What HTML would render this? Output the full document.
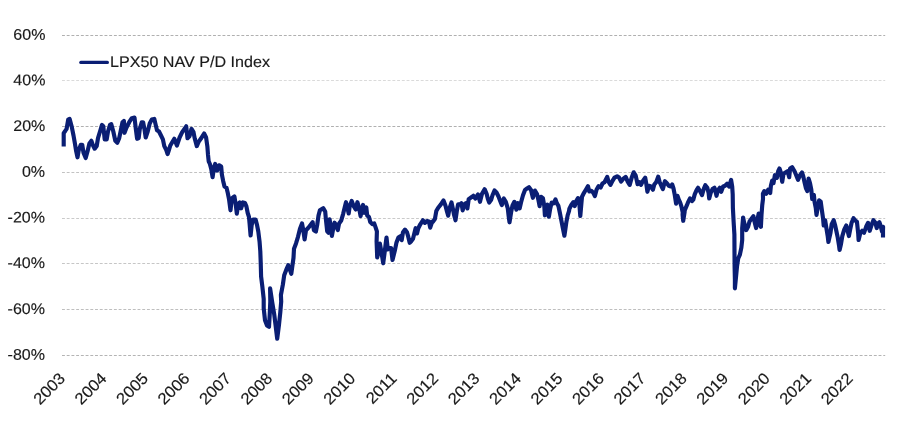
<!DOCTYPE html>
<html><head><meta charset="utf-8"><title>LPX50 NAV P/D Index</title>
<style>
html,body{margin:0;padding:0;background:#fff;}
body{width:906px;height:430px;overflow:hidden;}
svg{display:block;}
text{font-family:"Liberation Sans",sans-serif;font-size:15.4px;fill:#1a1a1a;stroke:#1a1a1a;stroke-width:0.15px;}
.grid line{stroke-width:1;stroke-dasharray:2.9 1.82;}
.series{fill:none;stroke:#0a1e74;stroke-width:4.15;stroke-linejoin:round;stroke-linecap:butt;}
</style></head>
<body>
<svg width="906" height="430" viewBox="0 0 906 430">
<rect width="906" height="430" fill="#ffffff"/>
<g class="grid"><line x1="62.0" x2="885.2" y1="35.5" y2="35.5" stroke="#b0b0b0"/><line x1="62.0" x2="885.2" y1="80.5" y2="80.5" stroke="#dadada"/><line x1="62.0" x2="885.2" y1="126.5" y2="126.5" stroke="#b0b0b0"/><line x1="62.0" x2="885.2" y1="172.5" y2="172.5" stroke="#c2c2c2"/><line x1="62.0" x2="885.2" y1="218.5" y2="218.5" stroke="#cacaca"/><line x1="62.0" x2="885.2" y1="263.5" y2="263.5" stroke="#c6c6c6"/><line x1="62.0" x2="885.2" y1="309.5" y2="309.5" stroke="#bebebe"/><line x1="62.0" x2="885.2" y1="355.5" y2="355.5" stroke="#b4b4b4"/></g>
<g class="ylabels"><text transform="translate(45.40 39.85) rotate(0.03) scale(1.04 1)" text-anchor="end">60%</text><text transform="translate(45.40 85.21) rotate(0.03) scale(1.04 1)" text-anchor="end">40%</text><text transform="translate(45.30 130.98) rotate(0.03) scale(1.04 1)" text-anchor="end">20%</text><text transform="translate(45.10 176.69) rotate(0.03) scale(1.04 1)" text-anchor="end">0%</text><text transform="translate(45.00 222.41) rotate(0.03) scale(1.04 1)" text-anchor="end">-20%</text><text transform="translate(45.00 268.02) rotate(0.03) scale(1.04 1)" text-anchor="end">-40%</text><text transform="translate(45.00 313.93) rotate(0.03) scale(1.04 1)" text-anchor="end">-60%</text><text transform="translate(45.00 359.85) rotate(0.03) scale(1.04 1)" text-anchor="end">-80%</text></g>
<g class="xlabels"><text transform="translate(66.20 379.3) rotate(-45.03) scale(1.04 1)" text-anchor="end" style="font-size:16.1px">2003</text><text transform="translate(107.65 379.3) rotate(-45.03) scale(1.04 1)" text-anchor="end" style="font-size:16.1px">2004</text><text transform="translate(149.10 379.3) rotate(-45.03) scale(1.04 1)" text-anchor="end" style="font-size:16.1px">2005</text><text transform="translate(190.55 379.3) rotate(-45.03) scale(1.04 1)" text-anchor="end" style="font-size:16.1px">2006</text><text transform="translate(232.00 379.3) rotate(-45.03) scale(1.04 1)" text-anchor="end" style="font-size:16.1px">2007</text><text transform="translate(273.45 379.3) rotate(-45.03) scale(1.04 1)" text-anchor="end" style="font-size:16.1px">2008</text><text transform="translate(314.90 379.3) rotate(-45.03) scale(1.04 1)" text-anchor="end" style="font-size:16.1px">2009</text><text transform="translate(356.35 379.3) rotate(-45.03) scale(1.04 1)" text-anchor="end" style="font-size:16.1px">2010</text><text transform="translate(397.80 379.3) rotate(-45.03) scale(1.04 1)" text-anchor="end" style="font-size:16.1px">2011</text><text transform="translate(439.25 379.3) rotate(-45.03) scale(1.04 1)" text-anchor="end" style="font-size:16.1px">2012</text><text transform="translate(480.70 379.3) rotate(-45.03) scale(1.04 1)" text-anchor="end" style="font-size:16.1px">2013</text><text transform="translate(522.15 379.3) rotate(-45.03) scale(1.04 1)" text-anchor="end" style="font-size:16.1px">2014</text><text transform="translate(563.60 379.3) rotate(-45.03) scale(1.04 1)" text-anchor="end" style="font-size:16.1px">2015</text><text transform="translate(605.05 379.3) rotate(-45.03) scale(1.04 1)" text-anchor="end" style="font-size:16.1px">2016</text><text transform="translate(646.50 379.3) rotate(-45.03) scale(1.04 1)" text-anchor="end" style="font-size:16.1px">2017</text><text transform="translate(687.95 379.3) rotate(-45.03) scale(1.04 1)" text-anchor="end" style="font-size:16.1px">2018</text><text transform="translate(729.40 379.3) rotate(-45.03) scale(1.04 1)" text-anchor="end" style="font-size:16.1px">2019</text><text transform="translate(770.85 379.3) rotate(-45.03) scale(1.04 1)" text-anchor="end" style="font-size:16.1px">2020</text><text transform="translate(812.30 379.3) rotate(-45.03) scale(1.04 1)" text-anchor="end" style="font-size:16.1px">2021</text><text transform="translate(853.75 379.3) rotate(-45.03) scale(1.04 1)" text-anchor="end" style="font-size:16.1px">2022</text></g>
<path class="series" d="M63.7 146.6 L63.7 133.2 L65.2 131 L66.6 128.8 L68.2 119.6 L69.6 118.9 L71.6 126.2 L73.5 135.5 L74.9 143.4 L76.2 151.4 L77.5 157.3 L78.8 150 L80.8 144.7 L82.2 144.7 L83.5 152.7 L85.7 158 L87.5 151.4 L89.4 143.4 L91.4 140.8 L92.7 144.7 L94.7 148.7 L96.7 146.1 L98 138.1 L100 131.5 L102 124.9 L103.3 126.2 L104.7 139.4 L106.7 139.4 L108 131.5 L110 124.9 L111.3 124.2 L113.3 131.5 L115.3 140.8 L117.3 142.7 L119.2 138.1 L120.6 131.5 L122.5 122.2 L123.9 120.9 L124.5 132.8 L126.5 127.5 L129.2 122.2 L131.8 118.2 L134.5 117.6 L135.8 128.8 L137.1 138.8 L138.7 138.1 L139.8 128.8 L141.8 122.2 L143.1 122.2 L144.4 128.8 L145.7 137.5 L147.7 131.5 L149.7 123.5 L151.7 119.6 L154.3 118.9 L155.7 124.9 L157 130.2 L159 131.5 L161 135.5 L162.9 139.4 L164.3 146.1 L166.3 150 L167.6 154 L168.9 150 L170.3 145.5 L174.3 138.8 L176.9 145.5 L179.6 137.5 L182.2 132.2 L186.2 126.3 L187.5 138.2 L189.5 136.2 L191.5 128.9 L193.5 132.2 L194.8 138.8 L196.8 146.1 L198.8 141.5 L200.8 138.8 L204.1 133.5 L206.1 137.5 L207.4 146.8 L208 154.7 L208.7 161.4 L209.9 164 L211.3 169.3 L212.6 177.2 L213.9 167.9 L215.2 164 L217.2 170.6 L219.2 165.3 L221.2 166.6 L221.9 174.6 L223.2 181.2 L224.5 186.5 L226.5 187.8 L227.8 193.1 L229.1 199.7 L230.5 210.3 L231.8 198.4 L234.4 196.4 L235.8 205 L236.8 213.6 L238.4 203.7 L239.7 202.4 L241.1 208.3 L243 202.4 L245 203 L246.4 206.4 L247.7 213 L249 217 L249.7 224.9 L250.6 235.5 L251.7 224.9 L253 219.6 L255.6 219.6 L257 224.9 L258.3 231.5 L259.6 242.1 L260.3 251.4 L260.7 262 L261.1 276.5 L262.4 287.1 L263.7 299 L263.7 308.2 L265 320.2 L267 325.5 L269 326.8 L269.7 314.9 L270.3 301.6 L270.1 288.4 L272.3 302.9 L274.3 314.9 L275.6 325.5 L277.2 338.7 L278.9 325.5 L280.3 312.2 L281.2 301.6 L280.9 295 L282.9 284.4 L284.2 275.2 L286.2 269.9 L288.2 265.2 L289.5 268.5 L291.3 273.8 L292.2 267.2 L293.5 257.9 L294 248.7 L296 243.4 L298 236.8 L300 228.8 L302 223.5 L303.3 230.2 L304.6 239.4 L306 230.2 L308.6 227.5 L312.6 222.2 L313.9 230.2 L315.9 231.5 L317.2 224.9 L318.5 215.6 L319.9 210.3 L323.2 208.2 L325.2 211.5 L325.9 219.4 L327.2 231.4 L328.5 232.7 L329.6 219.4 L330.9 228.7 L331.9 236 L333.2 228.7 L334.5 222.7 L335.8 224.7 L337.8 230 L339.1 223.4 L341.1 220.8 L343.1 214.1 L344.7 207.5 L346 202.2 L347.1 206.2 L348.7 213.5 L349.7 206.2 L351.7 200.9 L353.7 206.2 L355.7 209.5 L357.4 202.2 L359 207.5 L360.6 216.1 L361.7 210.2 L363 204.9 L364.3 212.8 L366.3 207.5 L367.2 215.5 L368.9 216.8 L370.3 222.1 L372.3 224.1 L374.2 223.4 L375.6 227.4 L376.9 231.4 L376.6 241.5 L377.2 257.4 L378.5 252.1 L379.9 243.5 L381.2 250.8 L382.5 258.7 L383.2 263.3 L384.5 253.4 L385.8 242.8 L386.5 237.5 L387.8 249.4 L389.1 248.1 L391.1 248.1 L392.5 260 L393.8 254.7 L395.1 249.4 L396.4 242.8 L398.4 237.5 L400.4 236.2 L401.7 240.2 L403 232.2 L405 229.6 L407 232.2 L408.3 236.9 L409.7 242.8 L411 241.5 L413 238.8 L414.3 233.5 L415.6 228.2 L417 233.5 L418.3 228.2 L420.3 224.3 L422.9 220.3 L424.9 222.9 L426.9 221 L428.9 221.6 L430.2 227.6 L432.2 221.6 L432.9 221.7 L434.9 219 L436.3 211.1 L438.2 207.7 L440.9 204.4 L443.5 200.5 L445.5 205.8 L446.9 211.1 L448.2 215.7 L449.5 208.4 L451.5 202.5 L452.8 208.4 L454.1 215 L455.5 220.3 L456.8 211.1 L458.1 204.4 L460.1 204.4 L461.4 203.1 L462.7 210.4 L464.1 204.4 L466.1 203.1 L467.4 208.4 L468.7 199.1 L471.4 197.2 L473.3 195.8 L475.3 198.5 L478 194.5 L480 201.8 L482 193.8 L484.6 189.2 L486.6 193.8 L487.9 199.1 L489.2 202.5 L491.2 199.8 L492.5 195.2 L494.5 190.5 L496.5 192.5 L498.5 196.5 L500.5 201.8 L501.8 205.1 L503.8 198.5 L505.8 201.8 L507.8 208.4 L508.7 216.4 L509.5 222.3 L511.1 212.4 L512.4 205.8 L514.4 201.8 L516.4 209.7 L517.7 203.1 L519.7 208.4 L521 202.5 L523 195.2 L525 189.9 L527 188.5 L529 187.2 L531 189.9 L532.9 197.8 L534.9 190.5 L537 194.1 L538.3 199.4 L539.6 206.1 L541 196.8 L542.9 198.1 L544.3 206.1 L544.9 215.3 L546.3 208.7 L547.6 204.7 L548.9 216.7 L550.2 208.7 L551.6 202.7 L553.5 203.4 L555.5 199.4 L556.9 203.4 L558.4 205.9 L559.8 212.5 L561.1 219.2 L562.4 225.8 L563.7 232.4 L564.4 235.7 L565.3 229.8 L566.4 221.8 L567.7 215.2 L569 211.2 L569.4 208.7 L571.4 204.7 L573.4 202.1 L574.7 206.1 L576.1 201.4 L578 198.1 L579.4 204.7 L580.3 216 L581.4 203.4 L582 196.8 L584 192.8 L586 189.5 L588 186.2 L589.3 191.5 L591.3 190.8 L593.3 192.8 L594.9 196.1 L596.6 189.5 L598.6 186.2 L600.6 187.5 L602.5 183.5 L604.5 182.2 L607.2 176.9 L608.5 181.6 L610.5 184.9 L612.5 180.9 L614.5 177.6 L617.1 176.3 L619.1 177.6 L621.1 181.6 L623.1 178.9 L625.7 176.9 L627.7 181.6 L629.7 184.9 L631.7 177.6 L633.7 172.3 L635.7 175.6 L637.6 184.2 L639.6 182.2 L641 184.9 L642.9 180.9 L645.2 177.6 L646.3 183.8 L647.4 191.8 L649 185.8 L651 186.5 L652.9 189.8 L654.3 184.5 L656.3 181.9 L658.2 176.6 L659.6 181.9 L661.6 186.5 L662.9 189.1 L664.9 181.2 L666.9 183.2 L668.8 185.8 L670.8 186.5 L672.2 184.5 L673.5 188.5 L674.8 195.1 L676.1 203.7 L677.5 195.8 L678.8 199.7 L680.1 202.4 L681.4 206.4 L682.7 212.3 L682.6 214.9 L683.2 220.8 L684.6 212.2 L684.7 210.3 L686.7 205.7 L688 202.4 L690 198.4 L692 201.1 L693.3 199.7 L694.7 194.4 L696.7 189.8 L698 187.8 L700 191.1 L702 195.1 L703.9 188.5 L705.3 185.2 L707.3 187.8 L708.6 193.1 L709.2 198.4 L710.6 193.1 L712.5 189.1 L714.5 187.8 L715.9 193.1 L716.5 195.8 L717.8 190.5 L719.8 187.8 L721.2 191.8 L723.1 186.5 L725.1 185.8 L727.1 183.8 L729.1 186.5 L731.1 179.9 L732.2 186.5 L732.7 194.4 L732.9 208.2 L733.6 221.5 L734.4 234.7 L734.5 253.2 L734.6 266.5 L734.9 279.7 L734.9 288.3 L736 277.1 L737 266.5 L738.2 258.5 L739.9 254.6 L741.3 247.9 L742.2 240 L742.2 228.1 L743.1 217.5 L744.2 222.8 L746.2 230.1 L748.1 226.8 L749.5 221.5 L751.5 218.8 L753.4 216.2 L754.8 222.8 L756.1 228.1 L757.4 220.2 L758.7 213.5 L760.1 225.5 L760.9 226.8 L761.5 214.9 L762.2 205.6 L763 199 L762.9 193.7 L764.3 191.1 L766.3 193.7 L768.2 189.7 L770.2 193 L770.9 185.8 L772.2 180.5 L773.5 183.1 L774.9 175.2 L776.9 177.8 L778.2 171.2 L779.5 168.5 L780.8 172.5 L782.2 181.8 L783.5 173.8 L785.5 172.5 L787.5 171.2 L789.2 177.2 L790.1 168.5 L792.1 167.2 L794.1 170.5 L795.4 173.2 L796.7 176.5 L798 179.8 L800 175.2 L802 172.5 L803.3 176.5 L804.7 183.1 L806 188.4 L807.3 191.1 L808.6 178.5 L810 183.1 L811.3 189.7 L812.2 199 L813.9 195 L814.5 201.6 L815.8 208.2 L816.5 214.9 L817.8 206.9 L819.1 200.3 L820.7 201.6 L821.8 209.6 L823.1 218.8 L823.7 225.5 L825.1 220.2 L826.4 228.1 L827.7 236.1 L828.4 242 L830.4 233.4 L831.7 224.1 L833.7 220.2 L835 224.8 L836.3 230.8 L837.7 237.4 L839 245.3 L839.6 250 L841 244 L842.3 236.1 L844.3 229.4 L846.3 225.5 L847.6 230.8 L848.9 236.1 L850.2 229.4 L851.6 222.8 L853.5 218.2 L855.5 220.8 L856.9 221.5 L858.2 233.4 L858.6 240 L860.2 233.4 L862.2 230.8 L864.1 232.7 L866.1 226.8 L868.1 222.8 L869.7 230.8 L871.4 225.5 L873.4 220.2 L875.4 222.8 L876.7 228.1 L878.1 223.5 L879.4 222.2 L880.7 226.1 L882 231.4 L883.1 226.8 L883 230.5 L883 237.6"/>
<line x1="80.8" x2="107.4" y1="62.4" y2="62.4" stroke="#0a1e74" stroke-width="3.2" stroke-linecap="round"/>
<text transform="translate(110 67) rotate(0.03)" textLength="160" lengthAdjust="spacingAndGlyphs">LPX50 NAV P/D Index</text>
</svg>
</body></html>
